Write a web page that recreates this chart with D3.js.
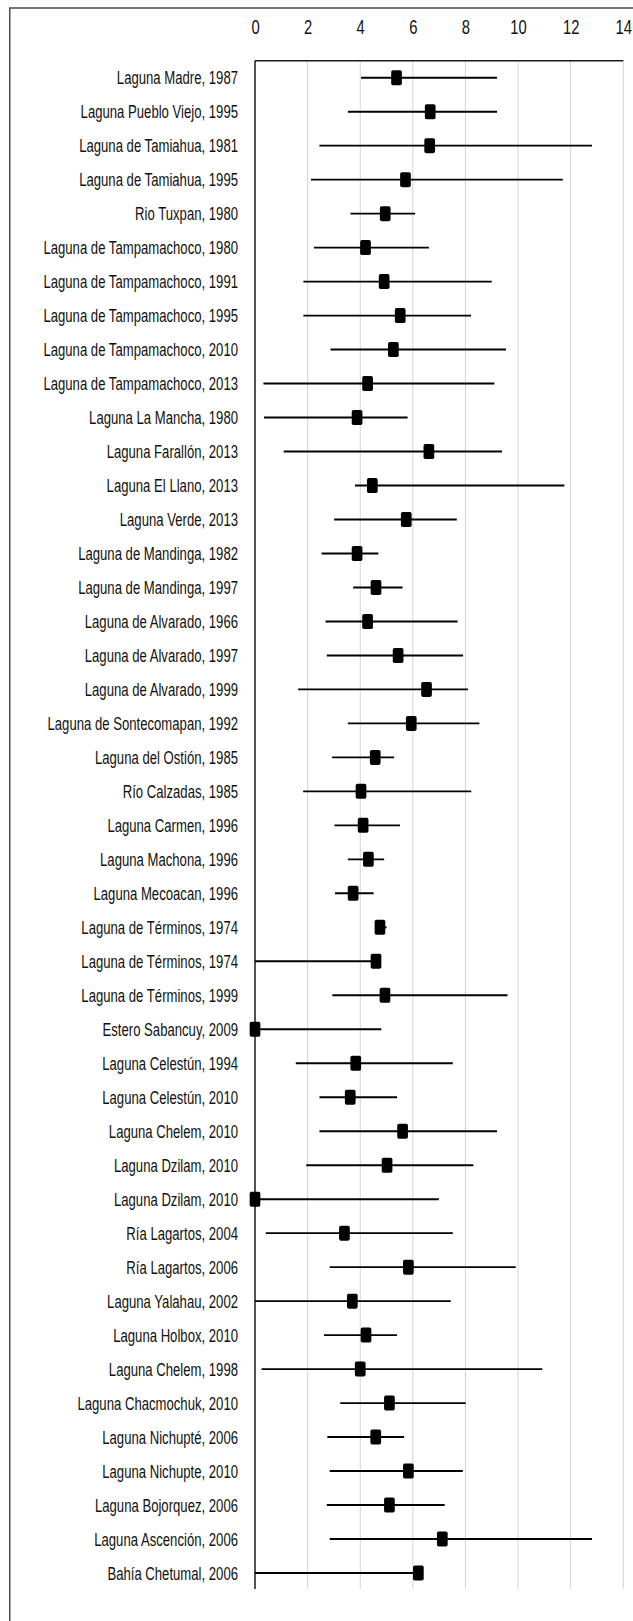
<!DOCTYPE html>
<html>
<head>
<meta charset="utf-8">
<script src="https://cdn.jsdelivr.net/npm/d3@7"></script>
<style>
  html, body { margin: 0; padding: 0; background: #fff; }
  svg { display: block; }
  text { font-family: "Liberation Sans", Arial, sans-serif; fill: #111; }
</style>
</head>
<body>
<svg id="chart" width="633" height="1621"></svg>
<script>
// Sites (lagoon / estuary and sampling year), top to bottom
const sites = [
  "Laguna Madre, 1987",
  "Laguna Pueblo Viejo, 1995",
  "Laguna de Tamiahua, 1981",
  "Laguna de Tamiahua, 1995",
  "Rio Tuxpan, 1980",
  "Laguna de Tampamachoco, 1980",
  "Laguna de Tampamachoco, 1991",
  "Laguna de Tampamachoco, 1995",
  "Laguna de Tampamachoco, 2010",
  "Laguna de Tampamachoco, 2013",
  "Laguna La Mancha, 1980",
  "Laguna Farallón, 2013",
  "Laguna El Llano, 2013",
  "Laguna Verde, 2013",
  "Laguna de Mandinga, 1982",
  "Laguna de Mandinga, 1997",
  "Laguna de Alvarado, 1966",
  "Laguna de Alvarado, 1997",
  "Laguna de Alvarado, 1999",
  "Laguna de Sontecomapan, 1992",
  "Laguna del Ostión, 1985",
  "Río Calzadas, 1985",
  "Laguna Carmen, 1996",
  "Laguna Machona, 1996",
  "Laguna Mecoacan, 1996",
  "Laguna de Términos, 1974",
  "Laguna de Términos, 1974",
  "Laguna de Términos, 1999",
  "Estero Sabancuy, 2009",
  "Laguna Celestún, 1994",
  "Laguna Celestún, 2010",
  "Laguna Chelem, 2010",
  "Laguna Dzilam, 2010",
  "Laguna Dzilam, 2010",
  "Ría Lagartos, 2004",
  "Ría Lagartos, 2006",
  "Laguna Yalahau, 2002",
  "Laguna Holbox, 2010",
  "Laguna Chelem, 1998",
  "Laguna Chacmochuk, 2010",
  "Laguna Nichupté, 2006",
  "Laguna Nichupte, 2010",
  "Laguna Bojorquez, 2006",
  "Laguna Ascención, 2006",
  "Bahía Chetumal, 2006"
];

// Central value for each site
const means = [
  5.38, 6.66, 6.64, 5.72, 4.95, 4.20, 4.91, 5.52, 5.26, 4.28,
  3.88, 6.61, 4.46, 5.75, 3.88, 4.60, 4.28, 5.44, 6.52, 5.94,
  4.57, 4.03, 4.11, 4.31, 3.73, 4.75, 4.60, 4.94, 0.00, 3.83,
  3.62, 5.61, 5.02, 0.00, 3.40, 5.83, 3.70, 4.22, 4.00, 5.11,
  4.59, 5.83, 5.11, 7.12, 6.21
];

// Lower end of each range
const lows = [
  4.03, 3.53, 2.45, 2.13, 3.63, 2.24, 1.84, 1.84, 2.87, 0.32,
  0.34, 1.09, 3.80, 3.01, 2.53, 3.73, 2.68, 2.73, 1.64, 3.53,
  2.93, 1.83, 3.02, 3.53, 3.04, 4.65, 0.00, 2.94, 0.00, 1.55,
  2.45, 2.45, 1.95, 0.00, 0.41, 2.84, 0.00, 2.62, 0.25, 3.24,
  2.75, 2.84, 2.73, 2.84, 0.00
];

// Upper end of each range
const highs = [
  9.20, 9.20, 12.81, 11.70, 6.09, 6.61, 9.00, 8.21, 9.54, 9.10,
  5.80, 9.39, 11.76, 7.67, 4.69, 5.61, 7.70, 7.91, 8.10, 8.53,
  5.29, 8.22, 5.51, 4.91, 4.51, 5.00, 4.60, 9.60, 4.80, 7.52,
  5.40, 9.20, 8.30, 6.99, 7.52, 9.91, 7.44, 5.40, 10.92, 8.01,
  5.67, 7.90, 7.21, 12.81, 6.21
];

const tickValues = [0, 2, 4, 6, 8, 10, 12, 14];

const rows = sites.map((s, i) => ({ key: i, label: s, mean: means[i], low: lows[i], high: highs[i] }));

const svg = d3.select("#chart");

// Frame around the figure
svg.append("rect")
  .attr("x", 9.75).attr("y", 8)
  .attr("width", 660).attr("height", 1660)
  .attr("fill", "none")
  .attr("stroke", "#4a4a4a")
  .attr("stroke-width", 1.5);

const x = d3.scaleLinear().domain([0, 14]).range([255, 623.3]);
const y = d3.scaleBand().domain(rows.map(d => d.key)).range([60.7, 1590]).padding(0);
const yc = k => y(k) + y.bandwidth() / 2;
const plotTop = 60.7, plotBottom = 1589;

// Vertical gridlines
svg.append("g")
  .selectAll("line")
  .data(tickValues.filter(v => v > 0))
  .join("line")
  .attr("x1", d => x(d)).attr("x2", d => x(d))
  .attr("y1", plotTop).attr("y2", plotBottom)
  .attr("stroke", "#d3d3d3")
  .attr("stroke-width", 1);

// Top axis: tick labels only (condensed horizontally)
const xAxis = d3.axisTop(x).tickValues(tickValues).tickSize(0).tickPadding(0);
const axisG = svg.append("g").attr("transform", "translate(0,34)").call(xAxis);
axisG.select(".domain").remove();
axisG.selectAll("text")
  .attr("y", 0).attr("dy", null)
  .attr("font-size", 20)
  .style("font-family", '"Liberation Sans", Arial, sans-serif')
  .attr("fill", "#111")
  .attr("transform", "scale(0.74,1)");

// Plot frame: top rule and left axis line
svg.append("line")
  .attr("x1", x(0)).attr("x2", x(14))
  .attr("y1", plotTop).attr("y2", plotTop)
  .attr("stroke", "#1a1a1a").attr("stroke-width", 1.5);

svg.append("line")
  .attr("x1", x(0)).attr("x2", x(0))
  .attr("y1", plotTop).attr("y2", plotBottom)
  .attr("stroke", "#1a1a1a").attr("stroke-width", 1.5);

// Site labels (condensed horizontally)
svg.append("g")
  .selectAll("text")
  .data(rows)
  .join("text")
  .attr("transform", d => `translate(238,${yc(d.key) + 6.6}) scale(0.71,1)`)
  .attr("text-anchor", "end")
  .attr("font-size", 18.5)
  .text(d => d.label);

// Range bars
const marks = svg.append("g");
marks.selectAll("line.range")
  .data(rows)
  .join("line")
  .attr("class", "range")
  .attr("x1", d => x(d.low)).attr("x2", d => x(d.high))
  .attr("y1", d => yc(d.key)).attr("y2", d => yc(d.key))
  .attr("stroke", "#000")
  .attr("stroke-width", 1.9);

// Central value markers
const mw = 10.7, mh = 15;
marks.selectAll("rect.mean")
  .data(rows)
  .join("rect")
  .attr("class", "mean")
  .attr("x", d => x(d.mean) - mw / 2)
  .attr("y", d => yc(d.key) - mh / 2)
  .attr("width", mw).attr("height", mh)
  .attr("rx", 1.8)
  .attr("fill", "#000");
</script>
</body>
</html>
